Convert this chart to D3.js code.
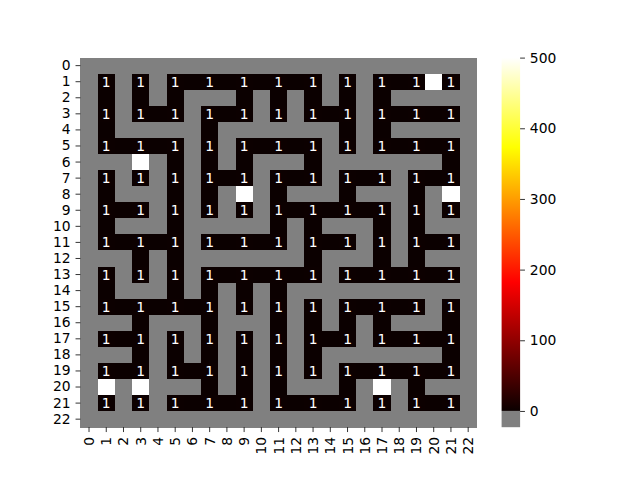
<!DOCTYPE html>
<html>
<head>
<meta charset="utf-8">
<script src="https://cdn.jsdelivr.net/npm/d3@7"></script>
<style>
  html, body { margin: 0; padding: 0; background: #fff; }
  svg { display: block; }
  text { font-family: "DejaVu Sans", sans-serif; }
</style>
</head>
<body>
<svg id="chart" width="640" height="480"></svg>
<script>
const N = null;
// maze grid values: null = wall (gray), 0 = open corridor, 1 = cell, 500 = marked cell
const rows = d3.range(23);
const cols = d3.range(23);
const rowLabels = rows.map(String);
const colLabels = cols.map(String);
const values = [
  [N,N,N,N,N,N,N,N,N,N,N,N,N,N,N,N,N,N,N,N,N,N,N],
  [N,1,N,1,N,1,0,1,0,1,0,1,0,1,N,1,N,1,0,1,500,1,N],
  [N,0,N,0,N,0,N,N,N,0,N,0,N,0,N,0,N,0,N,N,N,N,N],
  [N,1,N,1,0,1,N,1,0,1,N,1,N,1,0,1,N,1,0,1,0,1,N],
  [N,0,N,N,N,N,N,0,N,N,N,N,N,N,N,0,N,0,N,N,N,N,N],
  [N,1,0,1,0,1,N,1,N,1,0,1,0,1,N,1,N,1,0,1,0,1,N],
  [N,N,N,500,N,0,N,0,N,0,N,N,N,0,N,N,N,N,N,N,N,0,N],
  [N,1,N,1,N,1,N,1,0,1,N,1,0,1,N,1,0,1,N,1,0,1,N],
  [N,0,N,N,N,0,N,0,N,500,N,0,N,N,N,0,N,N,N,0,N,500,N],
  [N,1,0,1,N,1,N,1,N,1,N,1,0,1,0,1,0,1,N,1,N,1,N],
  [N,0,N,N,N,0,N,N,N,N,N,0,N,0,N,N,N,0,N,0,N,N,N],
  [N,1,0,1,0,1,N,1,0,1,0,1,N,1,0,1,N,1,N,1,0,1,N],
  [N,N,N,0,N,0,N,N,N,N,N,N,N,0,N,N,N,0,N,0,N,N,N],
  [N,1,N,1,N,1,N,1,0,1,0,1,0,1,N,1,0,1,0,1,0,1,N],
  [N,0,N,N,N,0,N,0,N,0,N,0,N,N,N,N,N,N,N,N,N,N,N],
  [N,1,0,1,0,1,0,1,N,1,N,1,N,1,N,1,0,1,0,1,N,1,N],
  [N,N,N,0,N,N,N,0,N,N,N,0,N,0,N,0,N,0,N,N,N,0,N],
  [N,1,0,1,N,1,N,1,N,1,N,1,N,1,0,1,N,1,0,1,0,1,N],
  [N,N,N,0,N,0,N,0,N,0,N,0,N,0,N,N,N,N,N,N,N,0,N],
  [N,1,0,1,N,1,0,1,N,1,N,1,N,1,N,1,0,1,0,1,0,1,N],
  [N,500,N,500,N,N,N,0,N,0,N,0,N,N,N,0,N,500,N,0,N,N,N],
  [N,1,N,1,N,1,0,1,0,1,N,1,0,1,0,1,N,1,N,1,0,1,N],
  [N,N,N,N,N,N,N,N,N,N,N,N,N,N,N,N,N,N,N,N,N,N,N]
];
const cbTicks = [0, 100, 200, 300, 400, 500];
const vmax = 500;
const vminBar = -23;

const svg = d3.select("#chart");
const L = 80.4, R = 476.8, T = 57.6, B = 427.2;
const fs = 13.89, tickLen = 4.86, tickPad = 4.86;

const x = d3.scaleBand().domain(cols).range([L, R]).padding(0);
const y = d3.scaleBand().domain(rows).range([T, B]).padding(0);

// matplotlib "hot" colormap
const hotStops = [[0, [0.0416, 0, 0]], [0.365079, [1, 0, 0]], [0.746032, [1, 1, 0]], [1, [1, 1, 1]]];
function hot(t) {
  t = Math.max(0, Math.min(1, t));
  for (let i = 1; i < hotStops.length; i++) {
    const [t1, c1] = hotStops[i], [t0, c0] = hotStops[i - 1];
    if (t <= t1) {
      const f = (t - t0) / (t1 - t0);
      return d3.rgb(...c0.map((v, k) => Math.round(255 * (v + f * (c1[k] - v)))));
    }
  }
  return d3.rgb(255, 255, 255);
}
const color = v => v === null ? "#808080" : hot(v / vmax).toString();

const cells = [];
values.forEach((row, r) => row.forEach((v, c) => cells.push({ r, c, v })));

svg.append("g").selectAll("rect").data(cells).join("rect")
  .attr("x", d => x(d.c)).attr("y", d => y(d.r))
  .attr("width", x.bandwidth() + 0.3).attr("height", y.bandwidth() + 0.3)
  .attr("fill", d => color(d.v))
  .attr("shape-rendering", "crispEdges");

svg.append("g").selectAll("text").data(cells.filter(d => d.v === 1)).join("text")
  .attr("x", d => x(d.c) + x.bandwidth() / 2)
  .attr("y", d => y(d.r) + y.bandwidth() / 2)
  .attr("text-anchor", "middle").attr("dominant-baseline", "central")
  .attr("font-size", fs).attr("fill", "#fff")
  .text(d => "1");

// axes
const yAxis = d3.axisLeft(y).tickSize(tickLen).tickPadding(tickPad).tickFormat((d, i) => rowLabels[i]);
const gy = svg.append("g").attr("transform", `translate(${L},0)`).call(yAxis);
gy.select(".domain").remove();
gy.selectAll("text").attr("font-size", fs).attr("font-family", "DejaVu Sans").attr("fill", "#000");
gy.selectAll("line").attr("stroke", "#000").attr("stroke-width", 0.8);

const xAxis = d3.axisBottom(x).tickSize(tickLen).tickPadding(tickPad).tickFormat((d, i) => colLabels[i]);
const gx = svg.append("g").attr("transform", `translate(0,${B})`).call(xAxis);
gx.select(".domain").remove();
gx.selectAll("line").attr("stroke", "#000").attr("stroke-width", 0.8);
gx.selectAll("text")
  .attr("font-size", fs).attr("font-family", "DejaVu Sans").attr("fill", "#000")
  .attr("transform", `translate(0,${tickLen + tickPad}) rotate(-90)`)
  .attr("x", 0).attr("y", 0).attr("dy", null)
  .attr("text-anchor", "end").attr("dominant-baseline", "central");

// colorbar
const cbL = 501.6, cbW = 18.5;
const cy = d3.scaleLinear().domain([vminBar, vmax]).range([B, T]);
const defs = svg.append("defs");
const grad = defs.append("linearGradient").attr("id", "hotgrad")
  .attr("x1", 0).attr("y1", 1).attr("x2", 0).attr("y2", 0);
hotStops.forEach(([t]) => grad.append("stop").attr("offset", t).attr("stop-color", hot(t).toString()));
svg.append("rect").attr("x", cbL).attr("y", cy(vmax)).attr("width", cbW)
  .attr("height", cy(0) - cy(vmax)).attr("fill", "url(#hotgrad)");
svg.append("rect").attr("x", cbL).attr("y", cy(0)).attr("width", cbW)
  .attr("height", cy(vminBar) - cy(0)).attr("fill", "#808080");
const cbAxis = d3.axisRight(cy).tickValues(cbTicks).tickSize(tickLen).tickPadding(tickPad);
const gc = svg.append("g").attr("transform", `translate(${cbL + cbW},0)`).call(cbAxis);
gc.select(".domain").remove();
gc.selectAll("line").attr("stroke", "#000").attr("stroke-width", 0.8);
gc.selectAll("text").attr("font-size", fs).attr("font-family", "DejaVu Sans").attr("fill", "#000");
</script>
</body>
</html>
